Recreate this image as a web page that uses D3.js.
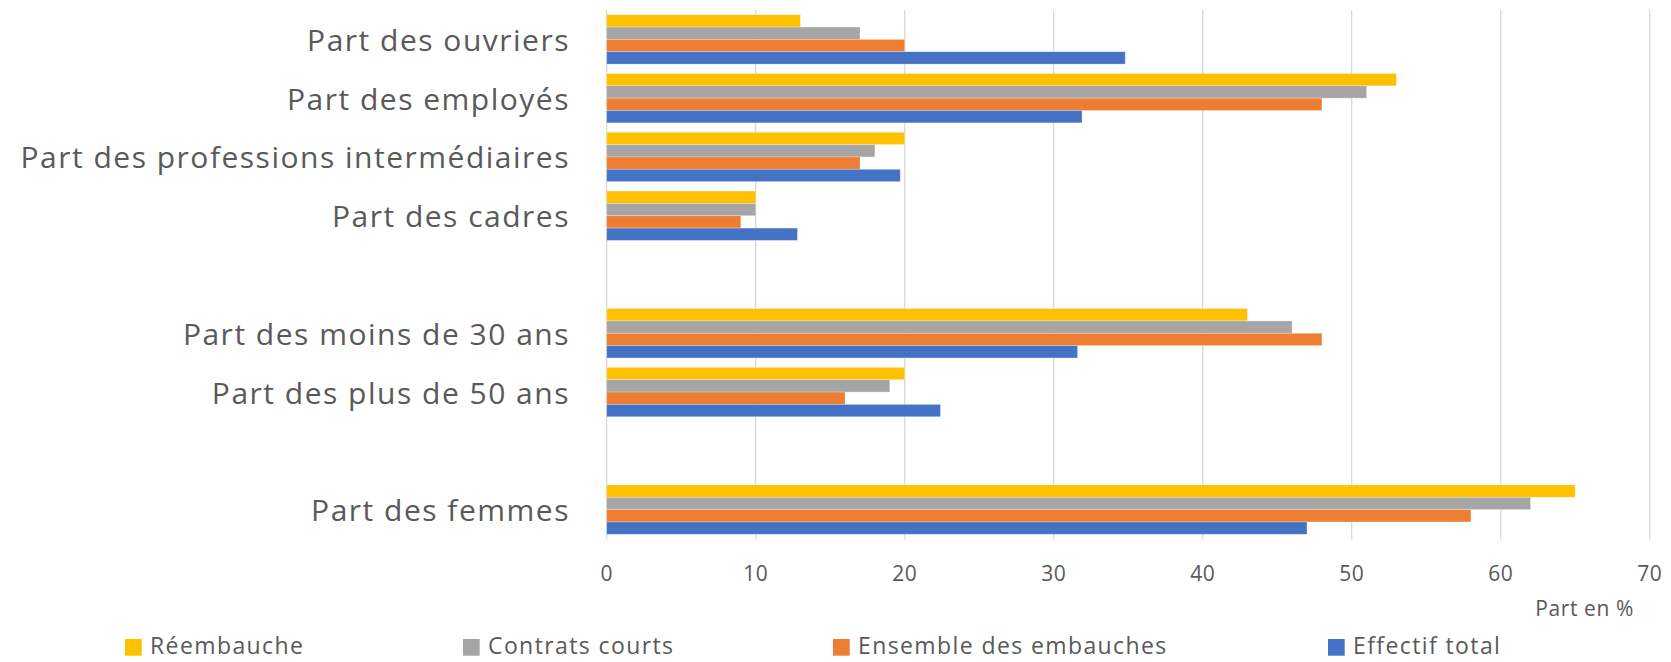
<!DOCTYPE html>
<html>
<head>
<meta charset="utf-8">
<script src="https://cdn.jsdelivr.net/npm/d3@7"></script>
<style>
  body { margin: 0; background: #fff; }
  svg text { font-family: "Open Sans", "Noto Sans", sans-serif; fill: #595959; }
</style>
</head>
<body>
<div id="chart"></div>
<script>
// categories (blank entries are the empty rows between groups)
const categories = [
    "Part des ouvriers",
    "Part des employés",
    "Part des professions intermédiaires",
    "Part des cadres",
    "",
    "Part des moins de 30 ans",
    "Part des plus de 50 ans",
    "",
    "Part des femmes"
];

const seriesNames = ["Réembauche", "Contrats courts", "Ensemble des embauches", "Effectif total"];
const seriesColors = ["#FFC000", "#A5A5A5", "#ED7D31", "#4472C4"];

// values, one array per series, same order as categories
const reembauche     = [13, 53, 20, 10, null, 43, 20, null, 65];
const contratsCourts = [17, 51, 18, 10, null, 46, 19, null, 62];
const ensemble       = [20, 48, 17,  9, null, 48, 16, null, 58];
const effectifTotal  = [34.8, 31.9, 19.7, 12.8, null, 31.6, 22.4, null, 47];

const xTicks = [0, 10, 20, 30, 40, 50, 60, 70];

const seriesValues = [reembauche, contratsCourts, ensemble, effectifTotal];

const width = 1671, height = 662;
const plot = {left: 606.7, right: 1649.7, top: 10, bottom: 539};

const svg = d3.select("#chart")
    .append("svg")
    .attr("width", width)
    .attr("height", height);

const x = d3.scaleLinear()
    .domain([0, 70])
    .range([plot.left, plot.right]);

// one band per category row
const y0 = d3.scaleBand()
    .domain(d3.range(categories.length))
    .range([plot.top, plot.bottom])
    .padding(0);

// bars within a row
const gap = y0.bandwidth() * 0.16;
const y1 = d3.scaleBand()
    .domain(d3.range(seriesNames.length))
    .range([gap / 2, y0.bandwidth() - gap / 2])
    .padding(0);

// vertical gridlines
svg.append("g")
    .attr("class", "grid")
    .selectAll("line")
    .data(xTicks)
    .enter()
    .append("line")
    .attr("x1", d => x(d))
    .attr("x2", d => x(d))
    .attr("y1", plot.top)
    .attr("y2", plot.bottom + 0.5)
    .attr("stroke", "#d9d9d9")
    .attr("stroke-width", 1.3);

// tick labels
svg.append("g")
    .selectAll("text")
    .data(xTicks)
    .enter()
    .append("text")
    .attr("x", d => x(d))
    .attr("y", 573)
    .attr("text-anchor", "middle")
    .attr("dominant-baseline", "central")
    .style("font-size", "21px")
    .style("letter-spacing", "0.5px")
    .text(d => d);

// bars
const rows = svg.append("g")
    .selectAll("g")
    .data(categories)
    .enter()
    .append("g")
    .attr("transform", (d, i) => `translate(0,${y0(i)})`);

rows.selectAll("rect")
    .data((d, i) => seriesValues.map((vals, s) => ({s: s, value: vals[i]})).filter(d => d.value !== null))
    .enter()
    .append("rect")
    .attr("x", x(0))
    .attr("y", d => y1(d.s))
    .attr("width", d => x(d.value) - x(0))
    .attr("height", y1.bandwidth())
    .attr("fill", d => seriesColors[d.s])
    .attr("stroke", "#fff")
    .attr("stroke-opacity", 0.35)
    .attr("stroke-width", 0.8);

// category labels
svg.append("g")
    .selectAll("text")
    .data(categories)
    .enter()
    .append("text")
    .attr("x", 570)
    .attr("y", (d, i) => y0(i) + y0.bandwidth() / 2)
    .attr("text-anchor", "end")
    .attr("dominant-baseline", "central")
    .style("font-size", "30px")
    .style("letter-spacing", "1.5px")
    .text(d => d);

// axis title
svg.append("text")
    .attr("x", 1634)
    .attr("y", 616)
    .attr("text-anchor", "end")
    .style("font-size", "21px")
    .style("letter-spacing", "0.6px")
    .text("Part en %");

// legend
const legendX = [125, 463, 833, 1328];
const legend = svg.append("g")
    .selectAll("g")
    .data(seriesNames)
    .enter()
    .append("g")
    .attr("transform", (d, i) => `translate(${legendX[i]},639)`);

legend.append("rect")
    .attr("width", 16.7)
    .attr("height", 16.7)
    .attr("fill", (d, i) => seriesColors[i]);

legend.append("text")
    .attr("x", 25)
    .attr("y", 15)
    .style("font-size", "23px")
    .style("letter-spacing", "1.4px")
    .text(d => d);
</script>
</body>
</html>
